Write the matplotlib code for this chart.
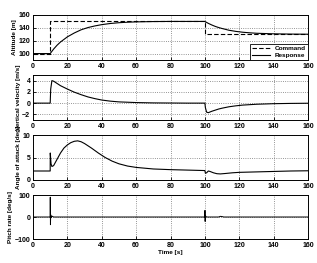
import matplotlib
matplotlib.use("Agg")
import matplotlib.pyplot as plt

plt.rcParams['font.family'] = ['Liberation Sans', 'DejaVu Sans']

# Altitude command
cmd_t = [0, 10, 10, 100, 100, 160]
cmd_alt = [100, 100, 150, 150, 130, 130]

# Altitude response
alt_t = [0, 10, 12, 14, 16, 18, 20, 24, 28, 32, 36, 40, 45, 50, 55, 60, 70, 80, 90, 100,
         102, 104, 106, 108, 110, 114, 118, 122, 126, 130, 140, 150, 160]
alt_v = [100, 100, 107, 113, 118, 122, 126, 132, 137, 140.5, 143, 145, 146.8, 148, 148.8, 149.3, 149.8, 150, 150, 150,
         147, 144.5, 142.3, 140.5, 139, 136.3, 134.5, 133.2, 132.3, 131.6, 130.7, 130.3, 130.1]

# Vertical velocity
vv_t = [0, 10, 10.3, 11, 12, 14, 16, 18, 20, 24, 28, 32, 36, 40, 45, 50, 60, 70, 80, 90, 100,
        100.3, 101, 102, 104, 106, 108, 110, 114, 118, 122, 130, 140, 150, 160]
vv_v = [0, 0, 2.5, 4.0, 3.9, 3.5, 3.1, 2.8, 2.5, 1.95, 1.5, 1.1, 0.8, 0.55, 0.35, 0.22, 0.1, 0.04, 0.02, 0.0, 0.0,
        -0.8, -1.6, -1.7, -1.45, -1.25, -1.05, -0.9, -0.65, -0.48, -0.35, -0.2, -0.1, -0.05, -0.02]

# Angle of attack
aoa_t = [0, 10, 10.05, 10.5, 11, 12, 14, 16, 18, 20, 22, 24, 26, 28, 30, 34, 38, 42, 46, 50, 55, 60, 70, 80, 90, 100,
         100.3, 101, 102, 103, 105, 107, 109, 112, 116, 120, 130, 140, 150, 160]
aoa_v = [2.0, 2.0, 6.0, 3.6, 3.0, 3.2, 4.6, 6.0, 7.1, 7.8, 8.3, 8.6, 8.7, 8.5, 8.1, 7.1, 6.0, 5.0, 4.2, 3.6, 3.1, 2.8, 2.45, 2.3, 2.2, 2.1,
         1.5, 1.6, 2.0, 1.9, 1.6, 1.4, 1.35, 1.45, 1.6, 1.7, 1.8, 1.9, 2.0, 2.05]

# Pitch rate
q_t = [0, 10, 10.05, 10.15, 10.3, 10.6, 11, 12, 100, 100.05, 100.15, 100.3, 101, 108, 109, 110, 111, 160]
q_v = [0, 0, 90, -35, 10, -3, 4, 0, 0, 30, -20, 5, 0, 0, 3, 2, 0, 0]

xticks = [0, 20, 40, 60, 80, 100, 120, 140, 160]

fig = plt.figure(figsize=(3.17, 2.63), dpi=100)
L, W = 33 / 317, 275 / 317
rows = [(15, 60), (75, 120), (135, 180), (195, 239)]
axes = []
for top, bot in rows:
    ax = fig.add_axes([L, 1 - bot / 263, W, (bot - top) / 263])
    axes.append(ax)

fs = 5.0
lfs = 4.6
lw = 0.8
ax1, ax2, ax3, ax4 = axes
ax1.plot(cmd_t, cmd_alt, color='black', ls=(0, (4, 2)), lw=lw, label='Command')
ax1.plot(alt_t, alt_v, color='black', lw=lw, label='Response')
ax1.set_ylim(90, 160)
ax1.set_yticks([100, 120, 140, 160])
ax1.set_ylabel('Altitude [m]', fontsize=lfs, fontweight='bold', labelpad=1)
leg = ax1.legend(loc='lower right', fontsize=lfs, frameon=True, fancybox=False,
                 edgecolor='black', borderpad=0.3, handlelength=2.8, labelspacing=0.2,
                 borderaxespad=0.0, framealpha=1)
leg.get_frame().set_linewidth(0.6)
for t in leg.get_texts():
    t.set_fontweight('bold')

ax2.plot(vv_t, vv_v, color='black', lw=lw)
ax2.set_ylim(-3, 5)
ax2.set_yticks([-2, 0, 2, 4])
ax2.set_ylabel('Vertical velocity [m/s]', fontsize=lfs, fontweight='bold', labelpad=1)

ax3.plot(aoa_t, aoa_v, color='black', lw=lw)
ax3.set_ylim(0, 10)
ax3.set_yticks([0, 5, 10])
ax3.set_ylabel('Angle of attack [deg]', fontsize=lfs, fontweight='bold', labelpad=1)

ax4.plot(q_t, q_v, color='black', lw=0.7)
ax4.set_ylim(-100, 100)
ax4.set_yticks([-100, 0, 100])
ax4.set_ylabel('Pitch rate [deg/s]', fontsize=lfs, fontweight='bold', labelpad=1)
ax4.set_xlabel('Time [s]', fontsize=lfs, fontweight='bold', labelpad=1)

for ax in axes:
    ax.set_xlim(0, 160)
    ax.set_xticks(xticks)
    ax.grid(True, ls=':', color='0.45', lw=0.6)
    ax.tick_params(labelsize=fs, length=2, width=0.6, pad=2, direction='in')
    for lab in ax.get_xticklabels() + ax.get_yticklabels():
        lab.set_fontweight('bold')
    for s in ax.spines.values():
        s.set_linewidth(0.7)

fig.savefig('out.png', dpi=100)
